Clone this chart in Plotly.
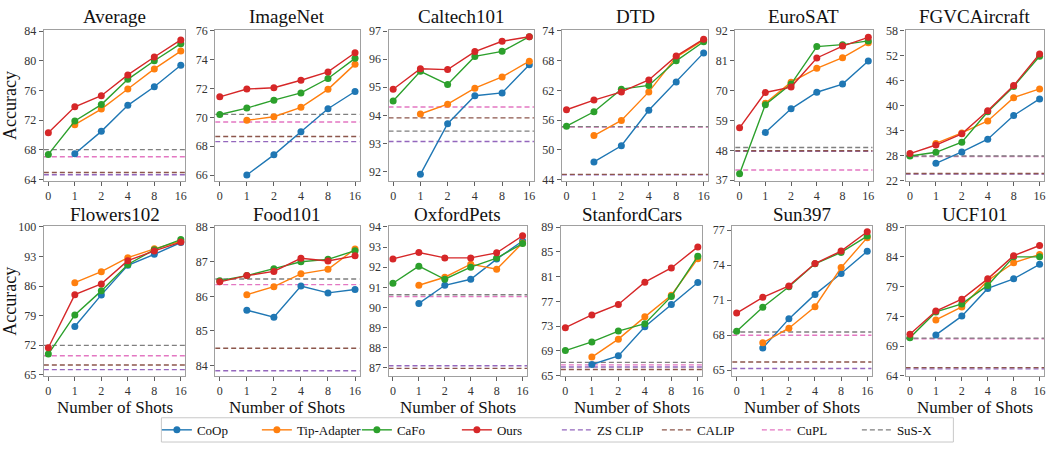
import plotly.graph_objects as go

shots = [0, 1, 2, 4, 8, 16]
shot_labels = ["0", "1", "2", "4", "8", "16"]

datasets = ["Average", "ImageNet", "Caltech101", "DTD", "EuroSAT", "FGVCAircraft",
            "Flowers102", "Food101", "OxfordPets", "StanfordCars", "Sun397", "UCF101"]

# CoOp has no 0-shot value (None)
coop = {
    "Average":      [None, 67.5, 70.5, 74.0, 76.5, 79.4],
    "ImageNet":     [None, 66.0, 67.4, 69.0, 70.6, 71.8],
    "Caltech101":   [None, 91.9, 93.7, 94.7, 94.8, 95.8],
    "DTD":          [None, 47.6, 50.85, 58.0, 63.7, 69.55],
    "EuroSAT":      [None, 54.6, 63.3, 69.4, 72.4, 80.9],
    "FGVCAircraft": [None, 26.1, 28.85, 31.9, 37.6, 41.6],
    "Flowers102":   [None, 76.4, 83.9, 90.9, 93.5, 96.3],
    "Food101":      [None, 85.6, 85.4, 86.3, 86.1, 86.2],
    "OxfordPets":   [None, 90.2, 91.1, 91.4, 92.4, 93.3],
    "StanfordCars": [None, 66.8, 68.2, 72.9, 76.5, 80.05],
    "Sun397":       [None, 66.9, 69.4, 71.5, 73.3, 75.2],
    "UCF101":       [None, 70.9, 74.05, 78.7, 80.3, 82.75],
}
tip = {
    "Average":      [None, 71.4, 73.5, 76.2, 78.9, 81.3],
    "ImageNet":     [None, 69.8, 70.05, 70.7, 71.95, 73.7],
    "Caltech101":   [None, 94.05, 94.4, 94.97, 95.37, 95.93],
    "DTD":          [None, 52.9, 55.95, 61.7, 68.7, 72.1],
    "EuroSAT":      [None, 65.3, 73.1, 78.2, 82.1, 87.6],
    "FGVCAircraft": [None, 30.9, 33.4, 36.3, 41.9, 44.0],
    "Flowers102":   [None, 86.8, 89.4, 92.7, 94.8, 96.6],
    "Food101":      [None, 86.05, 86.28, 86.65, 86.78, 87.37],
    "OxfordPets":   [None, 91.1, 91.5, 92.15, 91.9, 93.2],
    "StanfordCars": [None, 68.0, 70.9, 74.5, 78.0, 83.9],
    "Sun397":       [None, 67.35, 68.6, 70.44, 73.8, 76.37],
    "UCF101":       [None, 73.4, 75.6, 80.0, 83.0, 84.4],
}
cafo = {
    "Average":      [67.4, 71.9, 74.1, 77.5, 80.0, 82.3],
    "ImageNet":     [70.2, 70.65, 71.2, 71.7, 72.7, 74.1],
    "Caltech101":   [94.51, 95.57, 95.1, 96.1, 96.28, 96.8],
    "DTD":          [54.8, 57.7, 62.25, 63.0, 67.95, 71.8],
    "EuroSAT":      [39.4, 64.8, 72.4, 86.2, 86.9, 88.3],
    "FGVCAircraft": [27.85, 28.75, 31.2, 38.5, 44.6, 51.85],
    "Flowers102":   [69.9, 79.15, 84.85, 91.1, 94.6, 97.0],
    "Food101":      [86.45, 86.6, 86.8, 87.0, 87.07, 87.32],
    "OxfordPets":   [91.2, 92.05, 91.4, 92.0, 92.45, 93.17],
    "StanfordCars": [69.05, 70.45, 72.2, 73.4, 77.8, 84.3],
    "Sun397":       [68.33, 70.4, 72.15, 74.13, 75.1, 76.5],
    "UCF101":       [70.4, 74.75, 76.1, 79.2, 84.0, 84.0],
}
ours = {
    "Average":      [70.3, 73.8, 75.3, 78.1, 80.5, 82.8],
    "ImageNet":     [71.43, 71.97, 72.06, 72.58, 73.16, 74.49],
    "Caltech101":   [94.93, 95.66, 95.63, 96.27, 96.64, 96.8],
    "DTD":          [58.1, 60.05, 61.7, 64.1, 68.9, 72.3],
    "EuroSAT":      [56.3, 69.3, 71.3, 82.0, 86.4, 89.6],
    "FGVCAircraft": [28.45, 30.5, 33.2, 38.75, 44.8, 52.4],
    "Flowers102":   [71.4, 83.95, 86.5, 92.0, 94.3, 96.4],
    "Food101":      [86.42, 86.6, 86.72, 87.1, 87.02, 87.17],
    "OxfordPets":   [92.41, 92.73, 92.46, 92.46, 92.71, 93.56],
    "StanfordCars": [72.75, 74.8, 76.5, 80.1, 82.4, 85.8],
    "Sun397":       [69.9, 71.25, 72.23, 74.15, 75.22, 76.88],
    "UCF101":       [71.0, 74.9, 76.9, 80.3, 84.2, 85.9],
}

zs_clip = {"Average": 64.67, "ImageNet": 68.32, "Caltech101": 93.07, "DTD": 45.0,
           "EuroSAT": 47.7, "FGVCAircraft": 23.5, "Flowers102": 66.2, "Food101": 83.85,
           "OxfordPets": 87.11, "StanfordCars": 66.4, "Sun397": 65.14, "UCF101": 65.2}
calip = {"Average": 64.96, "ImageNet": 68.68, "Caltech101": 93.91, "DTD": 45.1,
         "EuroSAT": 47.85, "FGVCAircraft": 23.65, "Flowers102": 67.3, "Food101": 84.5,
         "OxfordPets": 86.98, "StanfordCars": 66.0, "Sun397": 65.7, "UCF101": 65.4}
cupl = {"Average": 67.08, "ImageNet": 69.68, "Caltech101": 94.3, "DTD": 54.6,
        "EuroSAT": 40.8, "FGVCAircraft": 27.75, "Flowers102": 69.5, "Food101": 86.34,
        "OxfordPets": 90.54, "StanfordCars": 66.75, "Sun397": 68.0, "UCF101": 70.25}
susx = {"Average": 68.04, "ImageNet": 70.21, "Caltech101": 93.44, "DTD": 54.7,
        "EuroSAT": 49.07, "FGVCAircraft": 27.85, "Flowers102": 71.95, "Food101": 86.5,
        "OxfordPets": 90.63, "StanfordCars": 67.15, "Sun397": 68.28, "UCF101": 70.35}

y_ticks = {
    "Average": [64, 68, 72, 76, 80, 84],
    "ImageNet": [66, 68, 70, 72, 74, 76],
    "Caltech101": [92, 93, 94, 95, 96, 97],
    "DTD": [44, 50, 56, 62, 68, 74],
    "EuroSAT": [37, 48, 59, 70, 81, 92],
    "FGVCAircraft": [22, 28, 34, 40, 46, 52, 58],
    "Flowers102": [65, 72, 79, 86, 93, 100],
    "Food101": [84, 85, 86, 87, 88],
    "OxfordPets": [87, 88, 89, 90, 91, 92, 93, 94],
    "StanfordCars": [65, 69, 73, 77, 81, 85, 89],
    "Sun397": [65, 68, 71, 74, 77],
    "UCF101": [64, 69, 74, 79, 84, 89],
}
y_ranges = {
    "Average": [63.85, 84.1], "ImageNet": [65.6, 76.05], "Caltech101": [91.67, 97.03],
    "DTD": [43.8, 74.1], "EuroSAT": [36.8, 92.2], "FGVCAircraft": [21.9, 58.1],
    "Flowers102": [64.7, 100.1], "Food101": [83.7, 88.02], "OxfordPets": [86.6, 94.02],
    "StanfordCars": [64.95, 89.1], "Sun397": [64.5, 77.33], "UCF101": [64.0, 89.1],
}

methods = [("CoOp", coop, "#1f77b4"), ("Tip-Adapter", tip, "#ff7f0e"),
           ("CaFo", cafo, "#2ca02c"), ("Ours", ours, "#d62728")]
baselines = [("ZS CLIP", zs_clip, "#9467bd"), ("CALIP", calip, "#8c564b"),
             ("CuPL", cupl, "#e377c2"), ("SuS-X", susx, "#7f7f7f")]

W, H = 1050, 450
cols_top = [(42, 184), (214, 359), (388, 534), (562, 709), (736, 874), (907, 1046)]
cols_bot = [(42, 184), (214, 359), (388, 527), (561, 703), (733, 873), (907, 1046)]
rows = [(25, 180), (227, 381)]
title_y = [11, 215]

FONT = "Liberation Serif, Times New Roman, serif"
xr = [-0.17, 5.17]
xpos = list(range(len(shots)))

fig = go.Figure()
layout = {}
for i, ds in enumerate(datasets):
    r, c = divmod(i, 6)
    cl = cols_top if r == 0 else cols_bot
    x0, x1 = cl[c]
    t, b = rows[r]
    n = i + 1
    xa = "x" if n == 1 else f"x{n}"
    ya = "y" if n == 1 else f"y{n}"
    layout["xaxis" if n == 1 else f"xaxis{n}"] = dict(
        domain=[x0 / W, x1 / W], anchor=ya, range=xr, tickvals=xpos, ticktext=shot_labels,
        showgrid=False, zeroline=False, showline=True, mirror=True, linecolor="#a0a0a0",
        linewidth=1.2, ticks="outside", ticklen=4, tickcolor="#606060",
        tickfont=dict(family=FONT, size=12, color="#333"),
    )
    layout["yaxis" if n == 1 else f"yaxis{n}"] = dict(
        domain=[1 - b / H, 1 - t / H], anchor=xa, range=y_ranges[ds], tickvals=y_ticks[ds],
        showgrid=False, zeroline=False, showline=True, mirror=True, linecolor="#a0a0a0",
        linewidth=1.2, ticks="outside", ticklen=4, tickcolor="#606060",
        tickfont=dict(family=FONT, size=12, color="#333"),
        title=dict(text="Accuracy" if c == 0 else "", font=dict(family=FONT, size=18, color="#111"), standoff=6),
    )
    for name, d, col in baselines:
        fig.add_trace(go.Scatter(
            x=xr, y=[d[ds], d[ds]], mode="lines", name=name,
            line=dict(color=col, width=1.4, dash="5px,3px"),
            xaxis=xa, yaxis=ya, showlegend=False, legendgroup=name, hoverinfo="skip"))
    for name, d, col in methods:
        fig.add_trace(go.Scatter(
            x=xpos, y=d[ds], mode="lines+markers", name=name,
            line=dict(color=col, width=1.4), marker=dict(color=col, size=7),
            xaxis=xa, yaxis=ya, showlegend=False, legendgroup=name))
    fig.add_annotation(text=ds, x=(x0 + x1) / 2 / W, y=1 - title_y[r] / H, xref="paper", yref="paper",
                       xanchor="center", yanchor="middle", showarrow=False,
                       font=dict(family=FONT, size=19, color="#111"))
    if r == 1:
        fig.add_annotation(text="Number of Shots", x=(x0 + x1) / 2 / W, y=1 - 413 / H,
                           xref="paper", yref="paper", xanchor="center", yanchor="middle",
                           showarrow=False, font=dict(family=FONT, size=17, color="#111"))

# legend entries
for name, d, col in methods:
    fig.add_trace(go.Scatter(x=[None], y=[None], mode="lines+markers", name=name,
                             line=dict(color=col, width=1.4), marker=dict(color=col, size=7),
                             legendgroup=name, showlegend=True))
for name, d, col in baselines:
    fig.add_trace(go.Scatter(x=[None], y=[None], mode="lines", name=name,
                             line=dict(color=col, width=1.4, dash="5px,3px"),
                             legendgroup=name, showlegend=True))

# legend frame
fig.add_shape(type="rect", xref="paper", yref="paper", x0=160 / W, x1=955 / W,
              y0=1 - 449 / H, y1=1 - 424 / H, line=dict(color="#c8c8c8", width=1),
              fillcolor="rgba(0,0,0,0)")

fig.update_layout(
    **layout,
    width=W, height=H, margin=dict(l=0, r=0, t=0, b=0),
    paper_bgcolor="white", plot_bgcolor="white",
    legend=dict(orientation="h", x=557 / W, xanchor="center", y=1 - 436.5 / H, yanchor="middle",
                font=dict(family=FONT, size=13, color="#111"), bgcolor="rgba(0,0,0,0)",
                borderwidth=0, itemwidth=30, tracegroupgap=0,
                entrywidth=55, entrywidthmode="pixels"),
    showlegend=True,
)
fig.write_html("out.html")
